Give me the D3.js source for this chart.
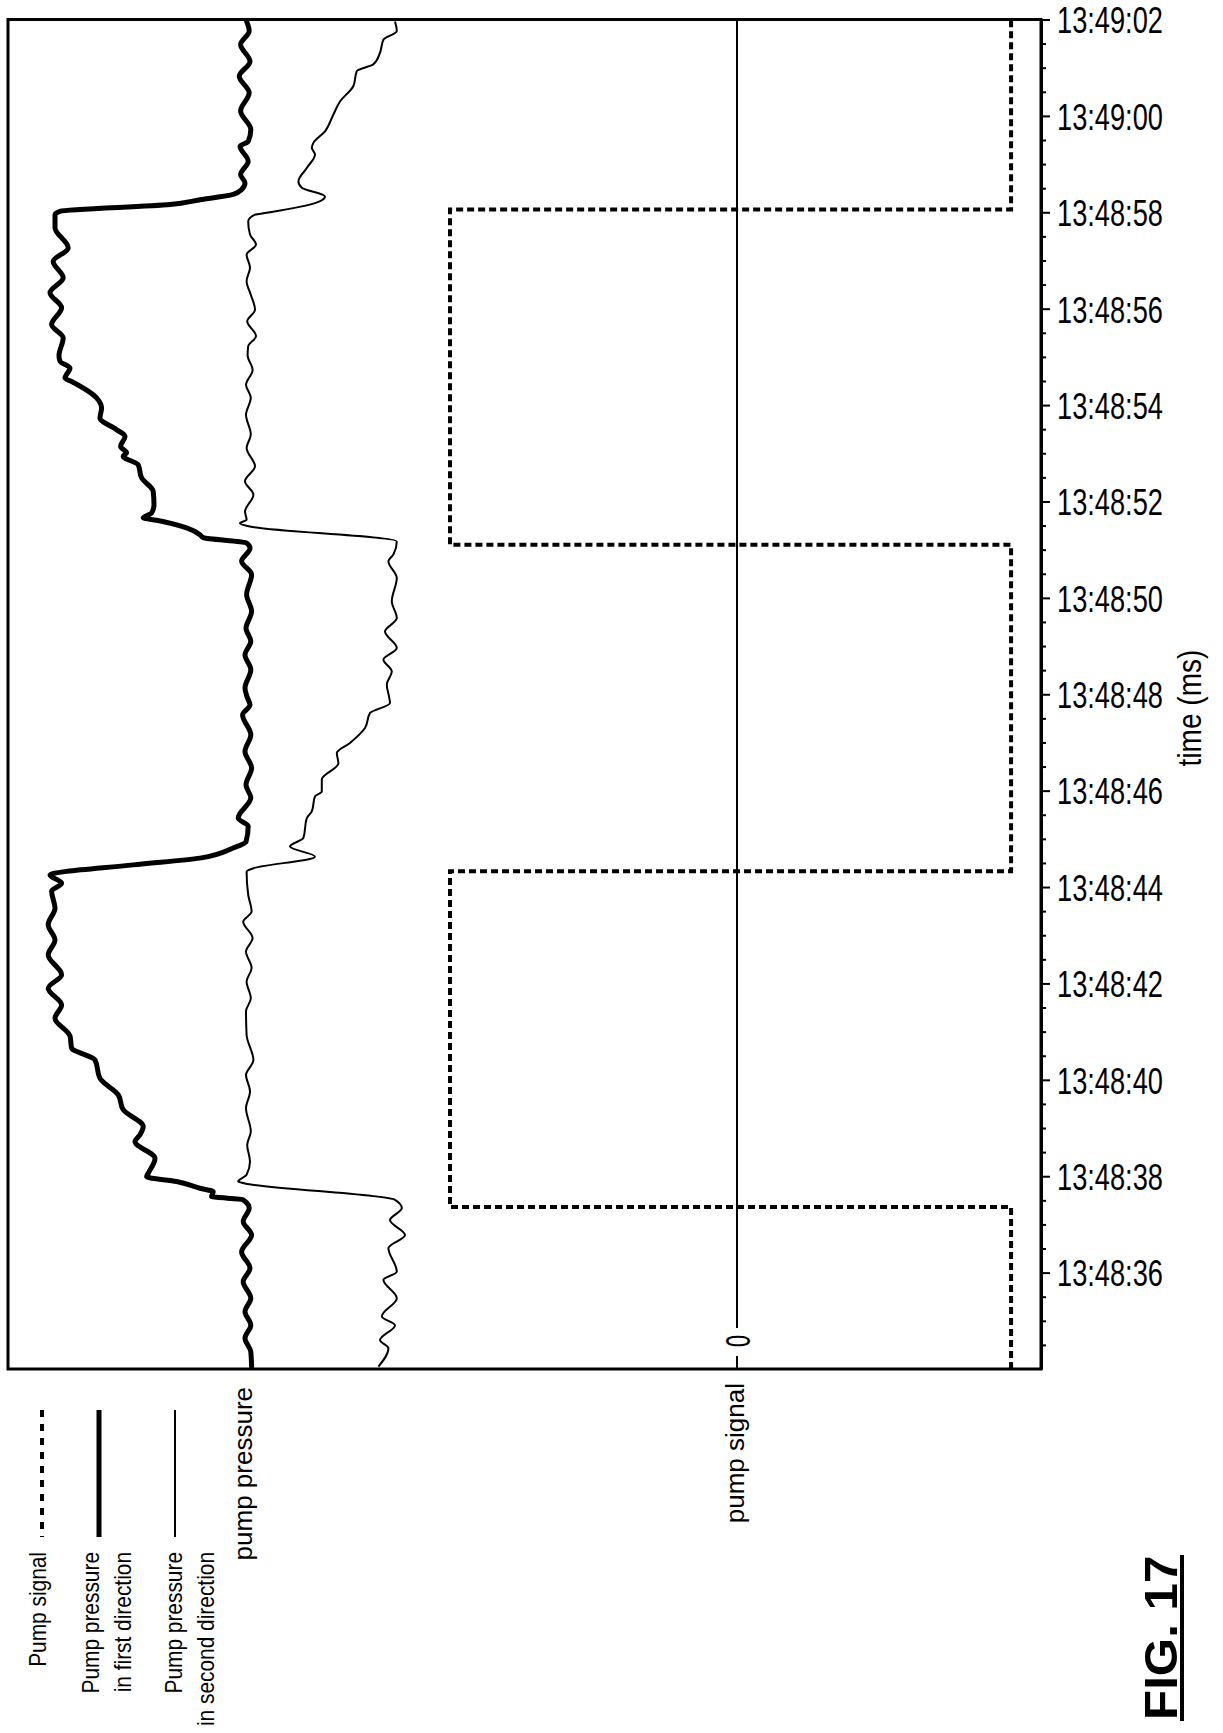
<!DOCTYPE html>
<html>
<head>
<meta charset="utf-8">
<script src="https://cdn.jsdelivr.net/npm/d3@7"></script>
<style>
body { margin: 0; background: #fff; }
text { font-family: "Liberation Sans", Arial, sans-serif; fill: #000; }
</style>
</head>
<body>
<svg id="chart" width="1223" height="1733"></svg>
<script>
// times are seconds after 13:48:00
var timeDomain = [34, 62];
var timeTicks = [36, 38, 40, 42, 44, 46, 48, 50, 52, 54, 56, 58, 60, 62];

// pump signal, 1 = on, -0.955 = off
var signalSteps = [[34, -0.955], [37.36, -0.955], [37.36, 1], [44.33, 1], [44.33, -0.955],
    [51.1, -0.955], [51.1, 1], [58.06, 1], [58.06, -0.955], [62, -0.955]];

// pump pressure in first direction [time, pressure]
var pressureFirst = [[34.05,-0.08],[34.36,-0.04],[34.64,0.25],[34.91,-0.04],[35.19,0.25],[35.47,-0.04],
    [35.81,0.34],[36.09,0],[36.43,0.42],[36.78,-0.08],[37.06,0.34],[37.34,0.04],[37.51,0.34],[37.58,1.92],
    [37.68,1.84],[37.75,2.5],[37.89,3.67],[37.99,5.17],[38.06,5.09],[38.37,4.75],[38.72,5.75],[38.86,5.5],
    [39.03,5.34],[39.38,6.34],[39.69,6.59],[40.03,7.5],[40.41,7.75],[40.66,8.92],[40.91,9.0],[41.28,9.75],
    [41.55,9.42],[41.9,10.09],[42.18,9.42],[42.59,10.09],[42.9,9.75],[43.22,10.09],[43.56,9.75],[43.91,9.92],
    [44.08,9.42],[44.25,10],[44.46,5.84],[44.6,2.5],[44.81,0.84],[44.94,0.2],[45.26,0.09],[45.43,0.59],
    [45.85,-0.04],[46.12,0.2],[46.47,-0.08],[46.81,0.25],[47.16,-0.04],[47.57,0.37],[47.78,0],[47.95,0.15],
    [48.13,0.25],[48.51,-0.04],[48.82,0.25],[49.1,-0.04],[49.37,0.2],[49.72,-0.08],[50.07,0.17],[50.48,-0.08],
    [50.76,0.42],[51.03,0],[51.14,0.17],[51.25,2.34],[51.31,2.5],[51.45,3.17],[51.61,4.67],[51.66,5.34],
    [51.76,4.92],[51.93,4.8],[52.21,4.84],[52.49,5.42],[52.76,5.59],[52.94,6.34],[53.01,6.17],[53.14,6.47],
    [53.35,6.25],[53.49,6.67],[53.73,7.5],[53.94,7.42],[54.15,7.67],[54.49,8.92],[54.56,9.25],[54.77,9.0],
    [54.91,9.5],[55.03,9.55],[55.39,9.34],[55.67,9.92],[56.02,9.42],[56.33,10],[56.64,9.34],[56.98,9.84],
    [57.26,9.09],[57.68,9.75],[57.95,9.75],[58.02,9.5],[58.16,4.0],[58.26,2.5],[58.37,0.84],[58.47,0.42],
    [58.61,0.25],[58.78,0.47],[59.06,0.09],[59.37,0.5],[59.47,0.09],[59.72,-0.04],[60.1,0.47],[60.48,0.04],
    [60.82,0.54],[61.13,0],[61.48,0.47],[61.76,0.04],[61.96,0.17]];

// pump pressure in second direction [time, pressure]
var pressureSecond = [[34.05,-6.42],[34.43,-6.92],[34.6,-6.5],[34.91,-7.25],[35.09,-6.59],[35.47,-7.34],
    [35.85,-6.67],[36.02,-7.34],[36.51,-6.92],[36.78,-7.75],[37.09,-7.0],[37.34,-7.59],[37.51,-7.25],
    [37.85,0.25],[37.89,0.59],[38.03,0.17],[38.3,0],[38.65,0.14],[38.93,-0.04],[39.41,0.2],[39.76,0],
    [40.1,0.2],[40.41,-0.17],[40.93,0.17],[41.42,0.2],[41.69,-0.04],[42.04,0.17],[42.32,-0.08],[42.66,0.2],
    [42.94,-0.13],[43.28,0.34],[43.49,-0.08],[43.84,0.09],[44.32,0.17],[44.39,-0.17],[44.63,-3.25],
    [44.84,-2.0],[45.02,-2.67],[45.43,-2.84],[45.57,-3.09],[45.88,-3.25],[45.98,-3.59],[46.23,-3.59],
    [46.57,-4.42],[46.78,-4.34],[46.99,-5.0],[47.3,-5.75],[47.61,-6.0],[47.82,-7.0],[47.95,-6.95],
    [48.2,-6.84],[48.47,-7.09],[48.72,-6.67],[48.96,-7.34],[49.3,-6.75],[49.58,-7.34],[49.93,-7.09],
    [50.41,-7.34],[50.76,-6.92],[50.9,-7.17],[51.17,-7.34],[51.48,0],[51.55,0.5],[51.62,0.17],[51.79,0.25],
    [52.14,-0.17],[52.42,0.25],[52.73,-0.25],[53.11,0.17],[53.39,-0.04],[53.8,0.2],[54.15,-0.04],[54.42,0.2],
    [54.73,-0.13],[55.03,0.12],[55.22,0.09],[55.43,-0.3],[55.74,0.14],[55.98,-0.25],[56.29,-0.04],
    [56.57,0.17],[56.85,0],[57.12,0.17],[57.33,-0.3],[57.54,0],[57.81,0.09],[57.95,-0.25],[57.99,-0.84],
    [58.19,-3.25],[58.33,-3.75],[58.51,-2.59],[58.64,-2.42],[58.92,-2.84],[59.2,-3.25],[59.34,-3.09],
    [59.44,-3.17],[59.68,-3.75],[60.03,-4.17],[60.3,-4.5],[60.62,-5.17],[60.93,-5.34],[61.07,-6.17],
    [61.31,-6.5],[61.58,-6.67],[61.76,-7.34],[61.96,-7.25]];

var legendLabels = [["Pump signal"], ["Pump pressure", "in first direction"], ["Pump pressure", "in second direction"]];

var svg = d3.select("#chart");
var base = new Date(2000, 0, 1, 13, 48, 0).getTime();
function toDate(s) { return new Date(base + s * 1000); }

var frameLeft = 8, frameRight = 1041, frameTop = 19.5, frameBottom = 1369;

var y = d3.scaleTime().domain(timeDomain.map(toDate)).range([frameBottom, frameTop]);
var xPressure = d3.scaleLinear().domain([0, 10]).range([250, 50]);
var xSignal = d3.scaleLinear().domain([0, 1]).range([737, 450]);

// frame
svg.append("rect")
    .attr("x", frameLeft).attr("y", frameTop)
    .attr("width", frameRight - frameLeft).attr("height", frameBottom - frameTop)
    .attr("fill", "none").attr("stroke", "#000").attr("stroke-width", 3);

// zero line of pump signal
svg.append("line")
    .attr("x1", xSignal(0)).attr("x2", xSignal(0))
    .attr("y1", frameTop).attr("y2", 1328)
    .attr("stroke", "#000").attr("stroke-width", 2);
svg.append("line")
    .attr("x1", xSignal(0)).attr("x2", xSignal(0))
    .attr("y1", 1356).attr("y2", frameBottom)
    .attr("stroke", "#000").attr("stroke-width", 2);
svg.append("text")
    .attr("transform", "translate(" + (xSignal(0) + 13) + ",1341) rotate(-90) scale(0.83,1.34)")
    .attr("text-anchor", "middle")
    .style("font-size", "26px")
    .text("0");

// time axis: minor then major ticks
var minorTicks = d3.range(34.5, 62, 0.5).filter(function(s) { return s % 2 !== 0; }).map(toDate);
var minorG = svg.append("g").attr("transform", "translate(" + frameRight + ",0)");
minorG.call(d3.axisRight(y).tickValues(minorTicks).tickSize(5).tickSizeOuter(0).tickFormat(""));
minorG.select(".domain").remove();
minorG.selectAll(".tick line").attr("stroke-width", 2);

var majorG = svg.append("g").attr("transform", "translate(" + frameRight + ",0)");
majorG.call(d3.axisRight(y).tickValues(timeTicks.map(toDate)).tickSize(9).tickSizeOuter(0)
    .tickPadding(7).tickFormat(d3.timeFormat("%H:%M:%S")));
majorG.attr("font-size", null).attr("font-family", null);
majorG.select(".domain").attr("stroke-width", 3);
majorG.selectAll(".tick line").attr("stroke-width", 2);
majorG.selectAll(".tick text")
    .style("font-size", "37px")
    .attr("x", 16 / 0.736)
    .attr("dy", "0.36em")
    .attr("transform", "scale(0.736,1)");

svg.append("text")
    .attr("transform", "translate(1201,708) rotate(-90) scale(0.85,1)")
    .attr("text-anchor", "middle")
    .style("font-size", "33px")
    .text("time (ms)");

// y labels below the frame
svg.append("text")
    .attr("transform", "translate(252," + (frameBottom + 18) + ") rotate(-90)")
    .attr("text-anchor", "end")
    .style("font-size", "26px")
    .text("pump pressure");
svg.append("text")
    .attr("transform", "translate(" + (xSignal(0) + 7) + "," + (frameBottom + 14) + ") rotate(-90)")
    .attr("text-anchor", "end")
    .style("font-size", "26px")
    .text("pump signal");

// series
var lineOf = function(xs) {
    return d3.line()
        .x(function(d) { return xs(d[1]); })
        .y(function(d) { return y(toDate(d[0])); });
};

svg.append("path")
    .datum(signalSteps)
    .attr("d", lineOf(xSignal))
    .attr("fill", "none").attr("stroke", "#000")
    .attr("stroke-width", 4).attr("stroke-dasharray", "7,4");

svg.append("path")
    .datum(pressureSecond)
    .attr("d", lineOf(xPressure).curve(d3.curveMonotoneY))
    .attr("fill", "none").attr("stroke", "#000")
    .attr("stroke-width", 2).attr("stroke-linejoin", "round");

svg.append("path")
    .datum(pressureFirst)
    .attr("d", lineOf(xPressure).curve(d3.curveMonotoneY))
    .attr("fill", "none").attr("stroke", "#000")
    .attr("stroke-width", 5).attr("stroke-linejoin", "round").attr("stroke-linecap", "round");

// legend
var legendX = [42, 99, 175];
var legendBase = [[46], [99, 131], [182, 214]];
var legendStyle = [
    {w: 4, dash: "7,7"},
    {w: 5, dash: null},
    {w: 2, dash: null}
];
legendLabels.forEach(function(lines, i) {
    svg.append("line")
        .attr("x1", legendX[i]).attr("x2", legendX[i])
        .attr("y1", 1410).attr("y2", 1537)
        .attr("stroke", "#000")
        .attr("stroke-width", legendStyle[i].w)
        .attr("stroke-dasharray", legendStyle[i].dash);
    lines.forEach(function(s, j) {
        svg.append("text")
            .attr("transform", "translate(" + legendBase[i][j] + ",1552) rotate(-90) scale(0.87,1)")
            .attr("text-anchor", "end")
            .style("font-size", "24px")
            .text(s);
    });
});

// figure caption
svg.append("text")
    .attr("transform", "translate(1177,1720) rotate(-90) scale(1.05,1)")
    .style("font-size", "47px")
    .style("font-weight", "bold")
    .text("FIG. 17");
svg.append("line")
    .attr("x1", 1182).attr("x2", 1182)
    .attr("y1", 1555).attr("y2", 1721)
    .attr("stroke", "#000").attr("stroke-width", 4);
</script>
</body>
</html>
